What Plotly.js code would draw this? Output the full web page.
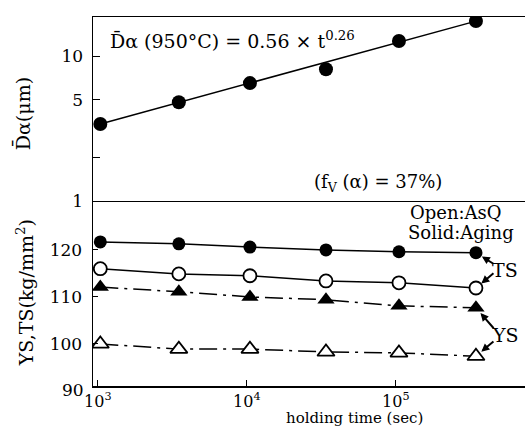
<!DOCTYPE html>
<html>
<head>
<meta charset="utf-8">
<script src="https://cdn.plot.ly/plotly-3.0.1.min.js"></script>
<style>html,body{margin:0;padding:0;background:#fff;}#chart{width:525px;height:426px;}</style>
</head>
<body>
<div id="chart"></div>
<script>
// holding time (sec)
const times = [1040, 3500, 10500, 34000, 105000, 345000];
// upper panel: mean ferrite grain size (µm)
const grainSize = [3.4, 4.8, 6.5, 8.1, 12.7, 17.4];
// fitted line endpoints
const fitTimes = [1040, 345000];
const fitSize = [3.4, 17.4];
// lower panel (kg/mm2)
const tsAging = [121.7, 121.3, 120.6, 120.0, 119.6, 119.4];
const tsAsQ   = [116.0, 114.9, 114.5, 113.4, 113.0, 111.9];
const ysAging = [112.1, 111.1, 110.0, 109.4, 108.1, 107.7];
const ysAsQ   = [100.0, 98.9, 98.9, 98.3, 98.1, 97.4];
const xTickVals = [1000, 10000, 100000];
const xTickText = ['10<sup>3</sup>', '10<sup>4</sup>', '10<sup>5</sup>'];
const upperTickVals = [1, 2, 5, 10];
const upperTickText = ['1', '', '5', '10'];
const lowerTickVals = [100, 110, 120];

const F = 'DejaVu Serif, Liberation Serif, serif';
const K = '#000';
const dashdot = '18px,6px,3px,6px';

const traces = [
  {x: fitTimes, y: fitSize, xaxis: 'x2', yaxis: 'y', mode: 'lines', line: {color: K, width: 1.5}},
  {x: times, y: grainSize, xaxis: 'x2', yaxis: 'y', mode: 'markers',
   marker: {symbol: 'circle', size: 14, color: K}},
  {x: times, y: tsAging, xaxis: 'x', yaxis: 'y2', mode: 'lines+markers',
   line: {color: K, width: 1.5}, marker: {symbol: 'circle', size: 13, color: K}},
  {x: times, y: tsAsQ, xaxis: 'x', yaxis: 'y2', mode: 'lines+markers',
   line: {color: K, width: 1.5}, marker: {symbol: 'circle', size: 13, color: '#fff', line: {color: K, width: 1.8}}},
  {x: times, y: ysAging, xaxis: 'x', yaxis: 'y2', mode: 'lines+markers',
   line: {color: K, width: 1.5, dash: dashdot}, marker: {symbol: 'triangle-up', size: 15, color: K}},
  {x: times, y: ysAsQ, xaxis: 'x', yaxis: 'y2', mode: 'lines+markers',
   line: {color: K, width: 1.5, dash: dashdot}, marker: {symbol: 'triangle-up', size: 15, color: '#fff', line: {color: K, width: 1.8}}}
];

const xr = [2.968, 5.867];
const last = times.length - 1;
function arrow(yv, ax, ay) {
  return {xref: 'x', yref: 'y2', x: Math.log10(times[last]), y: yv, text: '', showarrow: true,
          arrowhead: 2, arrowsize: 0.8, arrowwidth: 2, arrowcolor: K, ax: ax, ay: ay, standoff: 7};
}

const layout = {
  width: 525, height: 426,
  margin: {l: 93, r: 0, t: 17, b: 40},
  paper_bgcolor: '#fff', plot_bgcolor: '#fff',
  showlegend: false,
  font: {family: F, color: K, size: 17},
  xaxis: {type: 'log', range: xr, anchor: 'y2', tickvals: xTickVals, ticktext: xTickText,
          ticks: 'inside', ticklen: 6, tickcolor: K, showline: true, linecolor: K, linewidth: 1.5,
          showgrid: false, zeroline: false, tickfont: {size: 16}, ticklabelstandoff: 0},
  xaxis2: {type: 'log', range: xr, anchor: 'y', showticklabels: false, ticks: '',
           showline: true, mirror: true, linecolor: K, linewidth: 1.5, showgrid: false, zeroline: false},
  yaxis: {type: 'log', range: [0, 1.269], domain: [0.5014, 1], anchor: 'x2',
          tickvals: upperTickVals, ticktext: upperTickText, ticks: 'inside', ticklen: 7, tickcolor: K,
          showline: true, linecolor: K, linewidth: 1.5, showgrid: false, zeroline: false,
          tickfont: {size: 17}, ticklabelstandoff: 5},
  yaxis2: {range: [91.06, 130.4], domain: [0, 0.5014], anchor: 'x',
           tickvals: lowerTickVals, ticks: 'inside', ticklen: 5, tickcolor: K,
           showline: true, linecolor: K, linewidth: 1.5, showgrid: false, zeroline: false,
           tickfont: {size: 17}, ticklabelstandoff: 6},
  annotations: [
    {xref: 'paper', yref: 'paper', x: 0, y: -0.011, xshift: -7, xanchor: 'right', yanchor: 'middle',
     text: '90', showarrow: false, font: {size: 17}},
    {xref: 'paper', yref: 'paper', x: 0.0347, y: 0.9377, xanchor: 'left', yanchor: 'middle',
     text: 'D\u0304\u03b1 (950°C) = 0.56 × t<sup>0.26</sup>', showarrow: false, font: {size: 19}},
    {xref: 'paper', yref: 'paper', x: 0.66, y: 0.550, xanchor: 'center', yanchor: 'middle',
     text: '(f<sub>V</sub> (α) = 37%)', showarrow: false, font: {size: 18}},
    {xref: 'paper', yref: 'paper', x: 0.840, y: 0.469, xanchor: 'center', yanchor: 'middle',
     text: 'Open:AsQ', showarrow: false, font: {size: 18}},
    {xref: 'paper', yref: 'paper', x: 0.851, y: 0.417, xanchor: 'center', yanchor: 'middle',
     text: 'Solid:Aging', showarrow: false, font: {size: 18}},
    {xref: 'paper', yref: 'paper', x: 0.954, y: 0.314, xanchor: 'center', yanchor: 'middle',
     text: 'TS', showarrow: false, font: {size: 19}},
    {xref: 'paper', yref: 'paper', x: 0.954, y: 0.138, xanchor: 'center', yanchor: 'middle',
     text: 'YS', showarrow: false, font: {size: 19}},
    arrow(tsAging[last], 19, 12),
    arrow(tsAsQ[last], 19, -16),
    arrow(ysAging[last], 19, 22),
    arrow(ysAsQ[last], 19, -16),
    {xref: 'paper', yref: 'paper', x: -0.164, y: 0.737, xanchor: 'center', yanchor: 'middle', textangle: -90,
     text: 'D\u0304\u03b1(μm)', showarrow: false, font: {size: 19}},
    {xref: 'paper', yref: 'paper', x: -0.157, y: 0.252, xanchor: 'center', yanchor: 'middle', textangle: -90,
     text: 'YS,TS(kg/mm<sup>2</sup>)', showarrow: false, font: {size: 19}},
    {xref: 'paper', yref: 'paper', x: 0.606, y: -0.088, xanchor: 'center', yanchor: 'middle',
     text: 'holding time (sec)', showarrow: false, font: {size: 15}}
  ]
};

Plotly.newPlot('chart', traces, layout, {displayModeBar: false, staticPlot: true});
</script>
</body>
</html>
